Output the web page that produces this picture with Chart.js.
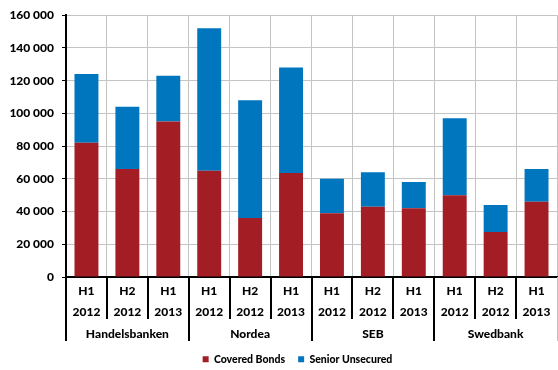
<!DOCTYPE html>
<html>
<head>
<meta charset="utf-8">
<script src="https://cdn.jsdelivr.net/npm/chart.js@4/dist/chart.umd.min.js"></script>
<style>
  html, body { margin: 0; padding: 0; background: #fff; }
  #wrap { width: 558px; height: 370px; }
</style>
</head>
<body>
<div id="wrap"><canvas id="c" width="558" height="370"></canvas></div>
<script>
// ---- data ----
const banks = ['Handelsbanken', 'Nordea', 'SEB', 'Swedbank'];
const periodsPerBank = 3;
const categories = [
  ['H1', '2012'], ['H2', '2012'], ['H1', '2013'],
  ['H1', '2012'], ['H2', '2012'], ['H1', '2013'],
  ['H1', '2012'], ['H2', '2012'], ['H1', '2013'],
  ['H1', '2012'], ['H2', '2012'], ['H1', '2013']
];
const coveredBonds    = [82000, 66000, 95000, 65000, 36000, 63500, 39000, 43000, 42000, 50000, 27500, 46000];
const seniorUnsecured = [42000, 38000, 28000, 87000, 72000, 64500, 21000, 21000, 16000, 47000, 16500, 20000];
const yTicks = [0, 20000, 40000, 60000, 80000, 100000, 120000, 140000, 160000];

// ---- styles ----
const FONT = 'Lato, "Open Sans", "DejaVu Sans", sans-serif';
const WEIGHT = 900;
const RED = '#A31D25';
const BLUE = '#0076BE';
const GRID = '#C4C4C4';

function fmt(v) {
  return String(v).replace(/\B(?=(\d{3})+(?!\d))/g, ' ');
}

const separators = {
  id: 'separators',
  beforeLayout(chart) {
    const lg = chart.legend;
    if (lg && !lg._patched) {
      const orig = lg.fit.bind(lg);
      lg.fit = function () { orig(); this.height = 29; };
      lg._patched = true;
    }
  },
  afterLayout(chart) {
    const lg = chart.legend;
    if (lg) { lg.left += 19; lg.right += 19; }
  },
  afterDraw(chart) {
    const x = chart.scales.x, x2 = chart.scales.x2, ctx = chart.ctx;
    ctx.save();
    const n = categories.length;
    for (let i = 0; i <= n; i++) {
      const px = Math.round(x.getPixelForValue(i - 0.5));
      const bankEdge = i % periodsPerBank === 0;
      const bottom = bankEdge ? x2.bottom : x.bottom;
      ctx.beginPath();
      if (i === n) {
        ctx.strokeStyle = GRID; ctx.lineWidth = 1;
        ctx.moveTo(px + 0.5, x.top); ctx.lineTo(px + 0.5, bottom);
      } else {
        ctx.strokeStyle = '#000'; ctx.lineWidth = 2;
        ctx.moveTo(px, x.top); ctx.lineTo(px, bottom);
      }
      ctx.stroke();
    }
    ctx.restore();
  }
};

new Chart(document.getElementById('c'), {
  type: 'bar',
  data: {
    labels: categories,
    datasets: [
      { label: 'Covered Bonds', data: coveredBonds, backgroundColor: RED, borderWidth: 0 },
      { label: 'Senior Unsecured', data: seniorUnsecured, backgroundColor: BLUE, borderWidth: 0 }
    ]
  },
  options: {
    responsive: false,
    animation: false,
    devicePixelRatio: 1,
    layout: { padding: { top: 14, right: 1, left: 0, bottom: 0 } },
    datasets: { bar: { categoryPercentage: 1, barPercentage: 0.585 } },
    plugins: {
      tooltip: { enabled: false },
      legend: {
        position: 'bottom',
        labels: {
          boxWidth: 6, boxHeight: 6, padding: 13,
          color: '#000',
          font: { family: FONT, size: 10.5, weight: WEIGHT }
        }
      }
    },
    scales: {
      x: {
        stacked: true,
        offset: true,
        grid: { display: true, offset: true, color: GRID, lineWidth: 1, drawTicks: false },
        border: { display: true, color: '#000', width: 2 },
        ticks: {
          color: '#000', padding: 3.5, maxRotation: 0, autoSkip: false,
          font: { family: FONT, size: 12, weight: WEIGHT, lineHeight: 1.75 }
        },
        afterFit(s) { s.height = 42; }
      },
      x2: {
        type: 'category',
        position: 'bottom',
        weight: 1,
        labels: banks,
        offset: true,
        grid: { display: false, drawTicks: false },
        border: { display: false },
        ticks: {
          color: '#000', padding: 8, maxRotation: 0, autoSkip: false,
          font: { family: FONT, size: 12, weight: WEIGHT, lineHeight: 1.2 }
        },
        afterFit(s) { s.height = 22; }
      },
      y: {
        stacked: true,
        min: 0, max: 160000,
        afterBuildTicks(s) { s.ticks = yTicks.map(v => ({ value: v })); },
        grid: { color: GRID, lineWidth: 1, tickColor: '#000', tickLength: 4, drawTicks: true },
        border: { display: true, color: '#000', width: 2 },
        ticks: {
          color: '#000', padding: 8,
          font: { family: FONT, size: 12, weight: WEIGHT },
          callback: (v) => fmt(v)
        },
        afterFit(s) { s.width = 66; }
      }
    }
  },
  plugins: [separators]
});
</script>
</body>
</html>
